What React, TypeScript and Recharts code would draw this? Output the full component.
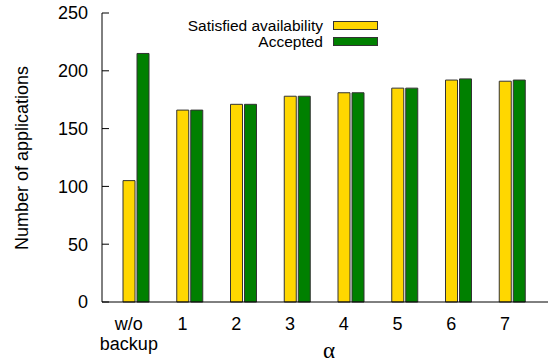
import React from 'react';
import { BarChart, Bar, XAxis, YAxis, Legend } from 'recharts';

const categories = ['w/o\nbackup', '1', '2', '3', '4', '5', '6', '7'];
const satisfied = [105, 166, 171, 178, 181, 185, 192, 191];
const accepted = [215, 166, 171, 178, 181, 185, 193, 192];
const yTicks = [0, 50, 100, 150, 200, 250];
const seriesNames = ['Satisfied availability', 'Accepted'];

const FONT = '"Liberation Sans", Arial, Helvetica, sans-serif';
const YELLOW = '#FFD700';
const GREEN = '#008000';

const data = categories.map((c, i) => ({
  cat: c,
  pad: 0,
  satisfied: satisfied[i],
  accepted: accepted[i],
}));

const XTick = (props: any) => {
  const { x, y, payload } = props;
  const lines = String(payload.value).split('\n');
  return (
    <text x={x} y={y} textAnchor="middle" fontSize={18} fill="#000" fontFamily={FONT}>
      {lines.map((l, i) => (
        <tspan key={i} x={x} dy={i === 0 ? '0.71em' : 20}>
          {l}
        </tspan>
      ))}
    </text>
  );
};

const LegendContent = (props: any) => {
  const items = (props.payload || [])
    .filter((p: any) => p.type !== 'none')
    .slice()
    .sort((a: any, b: any) => seriesNames.indexOf(a.value) - seriesNames.indexOf(b.value));
  return (
    <div style={{ fontFamily: FONT, fontSize: 15.5, color: '#000' }}>
      {items.map((it: any) => (
        <div
          key={it.value}
          style={{ display: 'flex', justifyContent: 'flex-end', alignItems: 'center', height: 15.7 }}
        >
          <span style={{ lineHeight: '15.7px', whiteSpace: 'nowrap' }}>{it.value}</span>
          <span
            style={{
              display: 'inline-block',
              width: 43,
              height: 7,
              border: '1px solid #333',
              background: it.color,
              marginLeft: 10,
            }}
          />
        </div>
      ))}
    </div>
  );
};

export default function App() {
  return (
    <div style={{ position: 'absolute', left: 0, top: 0 }}>
      <BarChart
        width={558}
        height={364}
        data={data}
        margin={{ top: 13, right: 10, left: 0, bottom: 0 }}
        barSize={12}
        barGap={2}
      >
        <XAxis
          dataKey="cat"
          height={62}
          padding={{ left: 0, right: 16 }}
          tickLine={false}
          tickSize={0}
          tickMargin={15}
          tick={<XTick />}
          interval={0}
          axisLine={{ stroke: '#000' }}
          label={(p: any) => (
            <text x={329} y={358} textAnchor="middle" fontSize={23} fill="#000" fontFamily="'Liberation Serif', 'DejaVu Serif', serif">
              α
            </text>
          )}
        />
        <XAxis
          xAxisId="top"
          orientation="top"
          dataKey="cat"
          height={0}
          tick={false}
          tickLine={false}
          axisLine={{ stroke: '#000' }}
        />
        <YAxis
          width={102}
          domain={[0, 250]}
          ticks={yTicks}
          interval={0}
          tickSize={-7}
          tickMargin={21}
          axisLine={{ stroke: '#000' }}
          tickLine={{ stroke: '#000' }}
          tick={{ fontSize: 18, fill: '#000', fontFamily: FONT }}
          label={(p: any) => (
            <text
              x={22}
              y={158}
              textAnchor="middle"
              dominantBaseline="central"
              transform="rotate(-90, 22, 158)"
              fontSize={18}
              fill="#000"
              fontFamily={FONT}
            >
              Number of applications
            </text>
          )}
        />
        <YAxis
          yAxisId="right"
          orientation="right"
          width={0}
          domain={[0, 250]}
          ticks={yTicks}
          interval={0}
          tickSize={-6}
          axisLine={{ stroke: '#000' }}
          tickLine={{ stroke: '#000' }}
          tick={() => <g />}
        />
        <Legend
          layout="vertical"
          align="center"
          verticalAlign="middle"
          content={<LegendContent />}
          wrapperStyle={{ position: 'absolute', left: 178, top: 18, width: 200, margin: 0 }}
        />
        <Bar dataKey="pad" fill="none" legendType="none" isAnimationActive={false} />
        <Bar
          dataKey="satisfied"
          name="Satisfied availability"
          fill={YELLOW}
          stroke="#333"
          strokeWidth={1}
          isAnimationActive={false}
        />
        <Bar
          dataKey="accepted"
          name="Accepted"
          fill={GREEN}
          stroke="#333"
          strokeWidth={1}
          isAnimationActive={false}
        />
      </BarChart>
    </div>
  );
}
